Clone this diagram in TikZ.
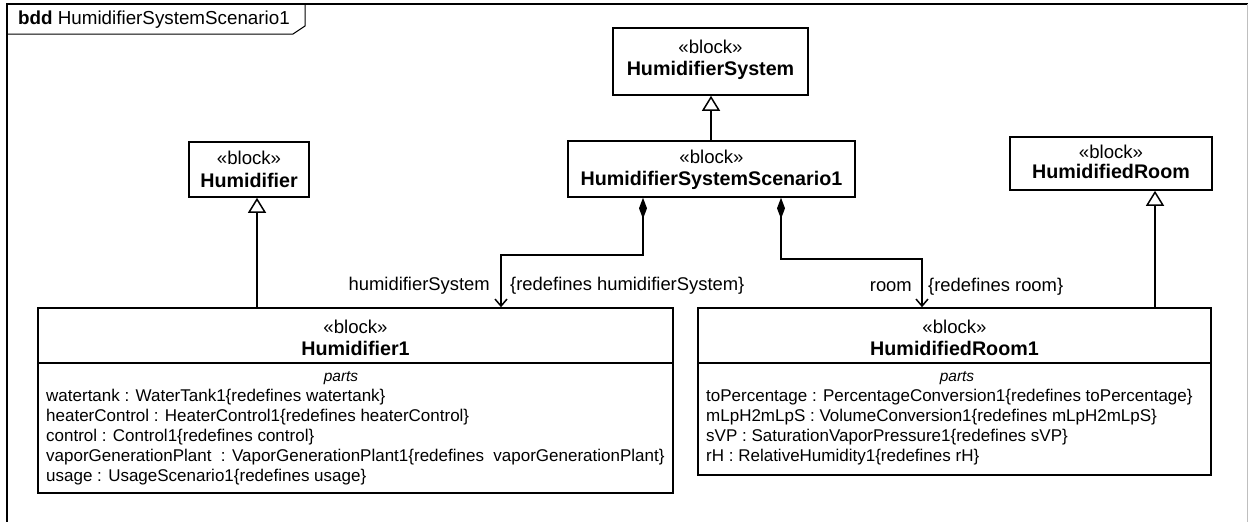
\documentclass[tikz,border=0pt]{standalone}
\usepackage{fontspec}
\setmainfont{Liberation Sans}
\usetikzlibrary{arrows.meta}
\begin{document}
\begin{tikzpicture}[x=1pt,y=-1pt,
  blk/.style={draw, line width=1.6pt, fill=white, inner sep=0pt},
  conn/.style={line width=1.5pt},
  gen/.style={conn, -{Triangle[open, width=18pt, length=15pt, line width=1.5pt]}},
  comp/.style={conn, {Diamond[width=8pt, length=21pt]}-{Straight Barb[width=12pt, length=7pt, line width=1.5pt]}},
  txt/.style={font=\fontsize{18.4}{21}\selectfont, inner sep=0pt},
  stxt/.style={font=\fontsize{18.6}{21}\selectfont, inner sep=0pt},
  btxt/.style={font=\fontsize{19.7}{23}\selectfont\bfseries, inner sep=0pt},
  ptxt/.style={font=\fontsize{17}{20}\selectfont, inner sep=0pt, anchor=west},
  itxt/.style={font=\fontsize{15.5}{18}\selectfont\itshape, inner sep=0pt}
]
\useasboundingbox (0,0) rectangle (1248,522);
\fill[white] (0,0) rectangle (1248,522);
% frame
\draw[line width=1.5pt] (7,522) -- (7,4) -- (1248,4);
\draw[line width=0.5pt, black!25] (1247,4) -- (1247,522);
\draw[line width=1pt] (7,34) -- (293,34) -- (305,26) -- (305,4);
\node[font=\fontsize{18.8}{21}\selectfont, inner sep=0pt, anchor=west] (title) at (18,20) {\textbf{bdd} HumidifierSystemScenario1};

% blocks
\node[blk, minimum width=195pt, minimum height=67pt] (hs) at (710.5,61.5) {};
\node[stxt] (hsS) at (710.5,47) {«block»};
\node[btxt] (hsN) at (710.5,70) {HumidifierSystem};

\node[blk, minimum width=287pt, minimum height=56pt] (sc) at (711.5,169) {};
\node[stxt] (scS) at (711.5,157) {«block»};
\node[btxt] (scN) at (711.5,180) {HumidifierSystemScenario1};

\node[blk, minimum width=120pt, minimum height=55pt] (hu) at (249,169.5) {};
\node[stxt] (huS) at (249,158) {«block»};
\node[btxt] (huN) at (249,180) {Humidifier};

\node[blk, minimum width=202pt, minimum height=53pt] (hr) at (1111,163.5) {};
\node[stxt] (hrS) at (1111,152) {«block»};
\node[btxt] (hrN) at (1111,171) {HumidifiedRoom};

% Humidifier1
\node[blk, minimum width=635pt, minimum height=185pt] (h1) at (355.5,400.5) {};
\draw[line width=1.6pt] (h1.west |- 0,363) coordinate (h1a) -- (h1.east |- 0,363) coordinate (h1b);
\node[stxt] (h1S) at (355.5,327) {«block»};
\node[btxt] (h1N) at (355.5,348) {Humidifier1};
\node[itxt] (h1P) at (341,378) {parts};
\node[ptxt] (h1p1) at (46,397) {watertank : WaterTank1\{redefines watertank\}};
\node[ptxt] (h1p2) at (46,417) {heaterControl : HeaterControl1\{redefines heaterControl\}};
\node[ptxt] (h1p3) at (46,437) {control : Control1\{redefines control\}};
\node[ptxt] (h1p4) at (46,457) {vaporGenerationPlant\ \ : VaporGenerationPlant1\{redefines\ \ vaporGenerationPlant\}};
\node[ptxt] (h1p5) at (46,477) {usage : UsageScenario1\{redefines usage\}};

% HumidifiedRoom1
\node[blk, minimum width=513pt, minimum height=167pt] (r1) at (954.5,391.5) {};
\draw[line width=1.6pt] (r1.west |- 0,363) coordinate (r1a) -- (r1.east |- 0,363) coordinate (r1b);
\node[stxt] (r1S) at (954.5,327) {«block»};
\node[btxt] (r1N) at (954.5,348) {HumidifiedRoom1};
\node[itxt] (r1P) at (957,378) {parts};
\node[ptxt] (r1p1) at (706,397) {toPercentage : PercentageConversion1\{redefines toPercentage\}};
\node[ptxt] (r1p2) at (706,417) {mLpH2mLpS : VolumeConversion1\{redefines mLpH2mLpS\}};
\node[ptxt] (r1p3) at (706,437) {sVP : SaturationVaporPressure1\{redefines sVP\}};
\node[ptxt] (r1p4) at (706,457) {rH : RelativeHumidity1\{redefines rH\}};

% connector x positions
\coordinate (gx1) at (257,0);
\coordinate (gx2) at (711,0);
\coordinate (gx3) at (1155,0);
\coordinate (cx1) at (643,0);
\coordinate (cx2) at (781,0);
\coordinate (ax1) at (501,0);
\coordinate (ax2) at (922,0);
\coordinate (ly1) at (0,255);
\coordinate (ly2) at (0,259);

% generalizations
\draw[gen] (h1.north -| gx1) -- (hu.south -| gx1);
\draw[gen] (sc.north -| gx2) -- (hs.south -| gx2);
\draw[gen] (r1.north -| gx3) -- (hr.south -| gx3);

% compositions
\draw[comp] (sc.south -| cx1) -- (ly1 -| cx1) -- (ly1 -| ax1) -- (h1.north -| ax1);
\draw[comp] (sc.south -| cx2) -- (ly2 -| cx2) -- (ly2 -| ax2) -- (r1.north -| ax2);

% role labels
\node[txt, anchor=east] (l1) at (490,286) {humidifierSystem};
\node[txt, anchor=west] (l2) at (510,286) {\{redefines humidifierSystem\}};
\node[txt, anchor=east] (l3) at (912,287) {room};
\node[txt, anchor=west] (l4) at (928,287) {\{redefines room\}};
\end{tikzpicture}
\end{document}
